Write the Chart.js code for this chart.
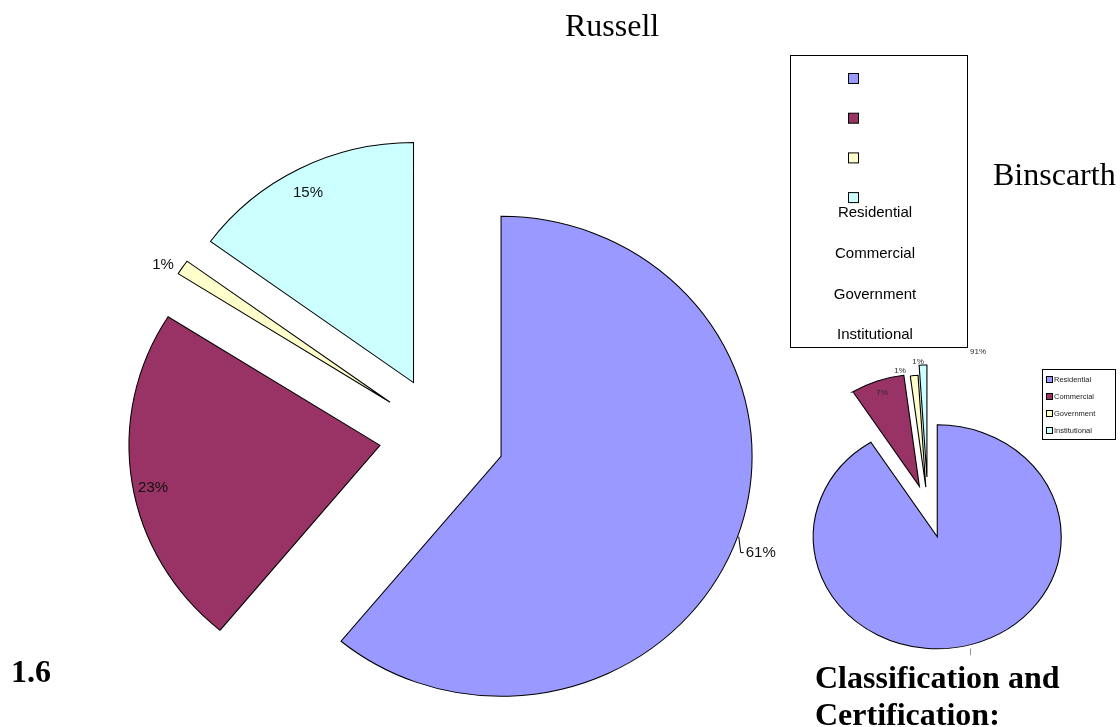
<!DOCTYPE html>
<html>
<head>
<meta charset="utf-8">
<title>Russell / Binscarth</title>
<script src="https://cdn.jsdelivr.net/npm/chart.js@4.4.1/dist/chart.umd.min.js"></script>
<style>
  html, body { margin: 0; padding: 0; background: #fff; }
  body {
    position: relative;
    width: 1120px;
    height: 727px;
    overflow: hidden;
    font-family: 'Liberation Serif', 'Times New Roman', serif;
  }
  canvas.layer { position: absolute; left: 0; top: 0; }
  .txt { position: absolute; white-space: nowrap; color: #000; line-height: 1; font-size: 32px; }
  .bold { font-weight: bold; }
</style>
</head>
<body>
<canvas id="russellChart" class="layer" width="1120" height="727"></canvas>
<canvas id="binscarthChart" class="layer" width="1120" height="727"></canvas>

<div class="txt" style="left:565px; top:9px;">Russell</div>
<div class="txt" style="left:993px; top:158px;">Binscarth</div>
<div class="txt bold" style="left:11px; top:655px;">1.6</div>
<div class="txt bold" style="left:815px; top:661px;">Classification and</div>
<div class="txt bold" style="left:815px; top:698px;">Certification:</div>

<script>
const categories = ['Residential', 'Commercial', 'Government', 'Institutional'];
const russellShares = [61, 23, 1, 15];
const binscarthShares = [91, 7, 1, 1];
const sliceColors = ['#9999ff', '#993366', '#ffffcc', '#ccffff'];

// layout for each pie (page pixels). sx = horizontal stretch of the printed pie,
// explode = how far each slice is pulled out, label angles in degrees clockwise from top
const russellStyle = {
  cx: 442, cy: 436, radius: 240, sx: 1.046,
  explode: [60, 60, 60, 60],
  labelAngle: [null, 258.9, 302.3, 332],
  labelDist: [1.0, 0.921, 1.07, 0.895],
  leader: [true, false, false, false],
  stub: [false, false, false, false],
  font: '15px "Liberation Sans", Arial, sans-serif',
  color: '#111'
};

const binscarthStyle = {
  cx: 928, cy: 508, radius: 112, sx: 1.107,
  explode: [30, 23, 21, 31],
  labelAngle: [11.3, null, 348.7, 356],
  labelDist: [1.68, 0.887, 1.057, 1.03],
  leader: [false, false, false, false],
  stub: [true, false, false, false],
  font: '8px "Liberation Sans", Arial, sans-serif',
  color: '#2a2a2a'
};

// pulls each slice out along its middle angle and applies the horizontal stretch
function explodedArcs(style) {
  return {
    id: 'explodedArcs',
    beforeDatasetDraw(chart, args) {
      const ctx = chart.ctx;
      args.meta.data.forEach((arc, i) => {
        const mid = (arc.startAngle + arc.endAngle) / 2;
        ctx.save();
        ctx.translate(arc.x, arc.y);
        ctx.scale(style.sx, 1);
        ctx.translate(-arc.x, -arc.y);
        ctx.translate(Math.cos(mid) * style.explode[i], Math.sin(mid) * style.explode[i]);
        arc.draw(ctx);
        ctx.restore();
      });
      return false;
    }
  };
}

function sliceLabels(style) {
  return {
    id: 'sliceLabels',
    afterDatasetsDraw(chart) {
      const ctx = chart.ctx;
      const values = chart.data.datasets[0].data;
      ctx.save();
      ctx.font = style.font;
      ctx.fillStyle = style.color;
      ctx.lineWidth = 1;
      ctx.textBaseline = 'middle';
      chart.getDatasetMeta(0).data.forEach((arc, i) => {
        const mid = (arc.startAngle + arc.endAngle) / 2;
        const ax = arc.x + Math.cos(mid) * style.explode[i];
        const ay = arc.y + Math.sin(mid) * style.explode[i];

        // small leftover tick under the slice edge
        if (style.stub[i]) {
          const ex = arc.x + (ax + Math.cos(mid) * style.radius - arc.x) * style.sx;
          const ey = ay + Math.sin(mid) * style.radius;
          ctx.strokeStyle = '#999';
          ctx.beginPath();
          ctx.moveTo(Math.round(ex) - 1.5, ey + 4);
          ctx.lineTo(Math.round(ex) - 1.5, ey + 11);
          ctx.stroke();
        }

        const ang = style.labelAngle[i] == null ? mid : (style.labelAngle[i] - 90) * Math.PI / 180;
        const dist = style.radius * style.labelDist[i];
        const px = ax + Math.cos(ang) * dist;
        const x = arc.x + (px - arc.x) * style.sx;
        const y = ay + Math.sin(ang) * dist;
        const text = values[i] + '%';
        if (style.leader[i]) {
          ctx.strokeStyle = '#000';
          ctx.beginPath();
          ctx.moveTo(x + 1.5, y - 1);
          ctx.lineTo(x + 3.5, y + 15);
          ctx.lineTo(x + 6.5, y + 15);
          ctx.stroke();
          ctx.textAlign = 'left';
          ctx.fillText(text, x + 8.5, y + 15);
        } else {
          ctx.textAlign = 'center';
          ctx.fillText(text, x, y);
        }
      });
      ctx.restore();
    }
  };
}

// Russell legend: swatches stacked above the names inside one tall frame
const russellLegend = {
  id: 'russellLegend',
  afterDraw(chart) {
    const ctx = chart.ctx;
    const colors = chart.data.datasets[0].backgroundColor;
    ctx.save();
    ctx.lineWidth = 1;
    ctx.strokeStyle = '#000';
    ctx.strokeRect(790.5, 55.5, 177, 292);
    ctx.font = '15px "Liberation Sans", Arial, sans-serif';
    ctx.textAlign = 'center';
    ctx.textBaseline = 'middle';
    chart.data.labels.forEach((label, i) => {
      const sy = 73.5 + i * 39.7;
      ctx.fillStyle = colors[i];
      ctx.fillRect(848.5, sy, 10, 10);
      ctx.strokeRect(848.5, sy, 10, 10);
      ctx.fillStyle = '#000';
      ctx.fillText(label, 875, 213 + i * 40.7);
    });
    ctx.restore();
  }
};

const binscarthLegend = {
  id: 'binscarthLegend',
  afterDraw(chart) {
    const ctx = chart.ctx;
    const colors = chart.data.datasets[0].backgroundColor;
    ctx.save();
    ctx.lineWidth = 1;
    ctx.strokeStyle = '#000';
    ctx.strokeRect(1042.5, 369.5, 73, 70);
    ctx.font = '7.5px "Liberation Sans", Arial, sans-serif';
    ctx.textAlign = 'left';
    ctx.textBaseline = 'middle';
    chart.data.labels.forEach((label, i) => {
      const cy = 380 + i * 17;
      ctx.fillStyle = colors[i];
      ctx.fillRect(1046.5, cy - 3.5, 6, 6);
      ctx.strokeRect(1046.5, cy - 3.5, 6, 6);
      ctx.fillStyle = '#222';
      ctx.fillText(label, 1054, cy);
    });
    ctx.restore();
  }
};

function makePie(canvasId, shares, style, legendPlugin) {
  const w = 1120, h = 727;
  return new Chart(document.getElementById(canvasId), {
    type: 'pie',
    data: {
      labels: categories,
      datasets: [{
        data: shares,
        backgroundColor: sliceColors,
        borderColor: '#000',
        borderWidth: 1,
        borderJoinStyle: 'miter',
        hoverOffset: 0
      }]
    },
    options: {
      responsive: false,
      animation: false,
      radius: style.radius,
      layout: {
        padding: {
          left: Math.max(0, 2 * style.cx - w),
          right: Math.max(0, w - 2 * style.cx),
          top: Math.max(0, 2 * style.cy - h),
          bottom: Math.max(0, h - 2 * style.cy)
        }
      },
      plugins: {
        legend: { display: false },
        tooltip: { enabled: false },
        title: { display: false }
      }
    },
    plugins: [explodedArcs(style), sliceLabels(style), legendPlugin]
  });
}

makePie('russellChart', russellShares, russellStyle, russellLegend);
makePie('binscarthChart', binscarthShares, binscarthStyle, binscarthLegend);
</script>
</body>
</html>
